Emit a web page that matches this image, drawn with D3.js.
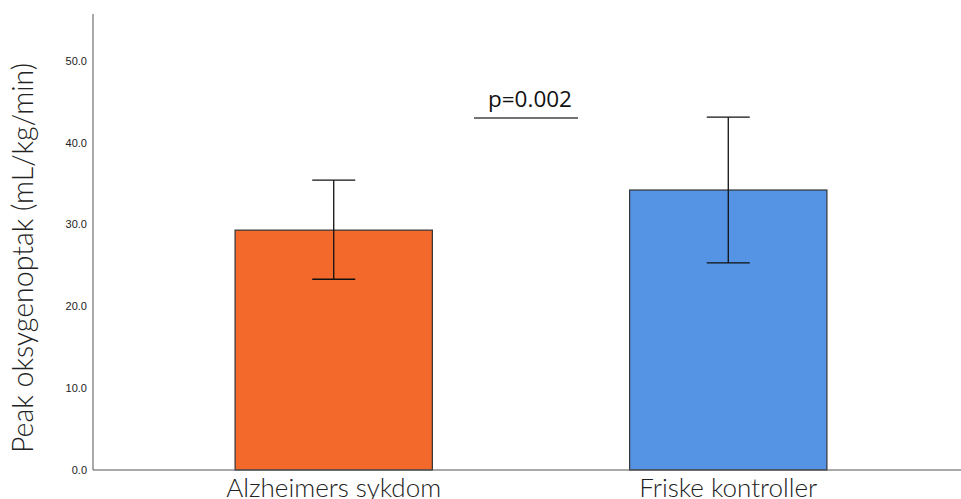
<!DOCTYPE html>
<html>
<head>
<meta charset="utf-8">
<script src="https://cdn.jsdelivr.net/npm/d3@7"></script>
<style>
  body { margin: 0; background: #fff; }
</style>
</head>
<body>
<script>
let categories = ["Alzheimers sykdom", "Friske kontroller"];
let means = [29.3, 34.2];
let lower = [23.3, 25.3];
let upper = [35.4, 43.1];
let colors = ["#F2692B", "#5594E4"];
let yTicks = [0, 10, 20, 30, 40, 50];
let pLabel = "p=0.002";

let width = 961;
let height = 499;
let margin = ({top: 14, right: 0, bottom: 29, left: 93});

let svg = d3.select("body").append("svg").attr("width", width).attr("height", height);

let data = categories.map((c, i) => ({name: c, mean: means[i], lo: lower[i], hi: upper[i], color: colors[i]}));

let y = d3.scaleLinear().domain([0, 55.7]).range([height - margin.bottom, margin.top]);
let x = d3.scaleBand().domain(categories).range([margin.left + 4, width + 4])
    .paddingInner(0.5).paddingOuter(0.35);

// bars
svg.append("g")
    .selectAll("rect")
    .data(data)
    .join("rect")
    .attr("x", d => x(d.name))
    .attr("width", x.bandwidth())
    .attr("y", d => y(d.mean))
    .attr("height", d => y(0) - y(d.mean))
    .attr("fill", d => d.color)
    .attr("stroke", "#333")
    .attr("stroke-width", 1.2);

// error bars
let eb = svg.append("g").attr("stroke", "#111").attr("stroke-width", 1.3);
let cx = d => x(d.name) + x.bandwidth() / 2;
eb.selectAll("line.v").data(data).join("line").attr("class", "v")
    .attr("x1", cx).attr("x2", cx)
    .attr("y1", d => y(d.hi)).attr("y2", d => y(d.lo));
eb.selectAll("line.t").data(data).join("line").attr("class", "t")
    .attr("x1", d => cx(d) - 21.5).attr("x2", d => cx(d) + 21.5)
    .attr("y1", d => y(d.hi)).attr("y2", d => y(d.hi));
eb.selectAll("line.b").data(data).join("line").attr("class", "b")
    .attr("x1", d => cx(d) - 21.5).attr("x2", d => cx(d) + 21.5)
    .attr("y1", d => y(d.lo)).attr("y2", d => y(d.lo));

// y axis
let yAxis = svg.append("g")
    .attr("transform", `translate(${margin.left},0)`)
    .call(d3.axisLeft(y).tickValues(yTicks).tickSize(0).tickPadding(6).tickFormat(d3.format(".1f")));
yAxis.select(".domain").attr("stroke", "#555").attr("d", `M0,${margin.top}V${y(0)}`);
yAxis.selectAll("text")
    .attr("font-family", "Liberation Sans, Arial, sans-serif")
    .attr("font-size", 11)
    .attr("fill", "#222");

// x axis baseline
svg.append("line")
    .attr("x1", margin.left).attr("x2", width)
    .attr("y1", y(0)).attr("y2", y(0))
    .attr("stroke", "#555").attr("stroke-width", 1);

// category labels
svg.append("g")
    .attr("font-family", "Lato, sans-serif")
    .attr("font-weight", 300)
    .attr("font-size", 26)
    .attr("fill", "#222")
    .attr("text-anchor", "middle")
    .selectAll("text")
    .data(data)
    .join("text")
    .attr("x", cx)
    .attr("y", y(0) + 27)
    .text(d => d.name);

// y label
svg.append("text")
    .attr("transform", `translate(33,${(y(0) + y(55.7)) / 2 + 16}) rotate(-90)`)
    .attr("text-anchor", "middle")
    .attr("font-family", "Lato, sans-serif")
    .attr("font-weight", 300)
    .attr("font-size", 28.5)
    .attr("fill", "#222")
    .text("Peak oksygenoptak (mL/kg/min)");

// significance annotation
let xm = (cx(data[0]) + cx(data[1])) / 2;
svg.append("line")
    .attr("x1", xm - 57).attr("x2", xm + 47)
    .attr("y1", 118).attr("y2", 118)
    .attr("stroke", "#444").attr("stroke-width", 1.3);
svg.append("text")
    .attr("x", xm - 1)
    .attr("y", 106.5)
    .attr("text-anchor", "middle")
    .attr("font-family", "Open Sans, sans-serif")
    .attr("font-size", 22.5)
    .attr("fill", "#111")
    .text(pLabel);
</script>
</body>
</html>
